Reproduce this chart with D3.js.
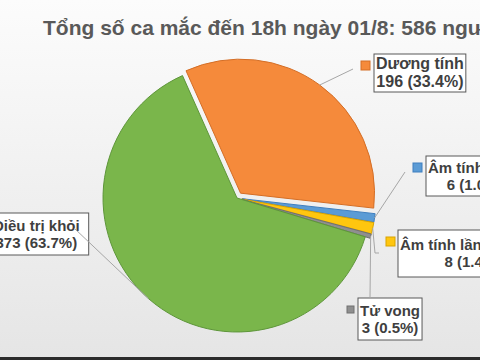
<!DOCTYPE html>
<html lang="vi">
<head>
<meta charset="utf-8">
<title>Tổng số ca mắc</title>
<script src="https://cdn.jsdelivr.net/npm/d3@7"></script>
<style>
  html, body { margin: 0; padding: 0; }
  body { width: 480px; height: 360px; overflow: hidden; font-family: "Liberation Sans", Arial, sans-serif; }
</style>
</head>
<body>
<script>
// data
var title = "Tổng số ca mắc đến 18h ngày 01/8: 586 người";
var categories = ["Dương tính", "Âm tính lần 1", "Âm tính lần 2 trở lên", "Tử vong", "Điều trị khỏi"];
var values = [196, 6, 8, 3, 373];
var colors = ["#F58A3B", "#5B9BD5", "#FFC60F", "#8F8F8F", "#7AB64B"];
var strokes = ["#D46E26", "#3F7FBF", "#D9A400", "#707070", "#5E963A"];

var w = 480, h = 360;
var cx = 237, cy = 198, r = 134;

// label layout: box top-left, extra padding, marker, leader end points
var layout = [
  { bx: 374, by: 54, bh: 38, fs: 16, pad: 4, mx: 361, my: 61, ms: 9, leader: [[353, 69]] },
  { bx: 426, by: 156, bh: 40, fs: 15, pad: 4, mx: 413, my: 163, ms: 9, leader: [[405, 172]] },
  { bx: 398, by: 230, bh: 47, fs: 15, pad: 4, mx: 386, my: 237, ms: 9, leader: [[375, 253], [379, 253]] },
  { bx: 358, by: 298, bh: 42, fs: 15, pad: 4, mx: 347, my: 306, ms: 7, leader: [[370, 298]] },
  { bx: -16, by: 213, bh: 42, fs: 15, pad: 18, mx: null, leader: [[74, 228]] }
];
var explode = [6, 5, 5, 5, 0];

var svg = d3.select("body").append("svg")
  .attr("width", w)
  .attr("height", h);

var grad = svg.append("defs").append("linearGradient")
  .attr("id", "bg").attr("x1", 0).attr("y1", 0).attr("x2", 0).attr("y2", 1);
grad.append("stop").attr("offset", "0%").attr("stop-color", "#fcfcfc");
grad.append("stop").attr("offset", "100%").attr("stop-color", "#e5e5e5");

svg.append("rect").attr("width", w).attr("height", h).attr("fill", "url(#bg)");
svg.append("rect").attr("x", 0).attr("y", 357).attr("width", w).attr("height", 3).attr("fill", "#2b2b2b");

svg.append("text")
  .attr("x", 43).attr("y", 35)
  .attr("font-size", 21).attr("font-weight", "bold")
  .attr("fill", "#595959")
  .text(title);

var data = categories.map(function (c, i) { return { name: c, value: values[i], i: i }; });
var total = d3.sum(values);
var fmt = d3.format(".1%");

var start = -24 * Math.PI / 180;
var pie = d3.pie().value(function (d) { return d.value; }).sort(null)
  .startAngle(start).endAngle(start + 2 * Math.PI);
var arcs = pie(data);
var arc = d3.arc().innerRadius(0).outerRadius(r);

function offset(a, dist) {
  var m = (a.startAngle + a.endAngle) / 2;
  return [Math.sin(m) * dist, -Math.cos(m) * dist];
}

var g = svg.append("g").attr("transform", "translate(" + cx + "," + cy + ")");
g.selectAll("path")
  .data(arcs)
  .enter()
  .append("path")
  .attr("d", arc)
  .attr("transform", function (d) {
    var o = offset(d, explode[d.data.i]);
    return "translate(" + o[0] + "," + o[1] + ")";
  })
  .attr("fill", function (d) { return colors[d.data.i]; })
  .attr("stroke", function (d) { return strokes[d.data.i]; })
  .attr("stroke-width", 1);

// labels
var labels = svg.append("g");
arcs.forEach(function (d) {
  var i = d.data.i, L = layout[i];
  var lg = labels.append("g");
  var t1 = lg.append("text").attr("font-size", L.fs).attr("font-weight", "bold")
    .attr("fill", "#3f3f3f").attr("text-anchor", "middle").text(d.data.name);
  var t2 = lg.append("text").attr("font-size", L.fs).attr("font-weight", "bold")
    .attr("fill", "#3f3f3f").attr("text-anchor", "middle")
    .text(d.data.value + " (" + fmt(d.data.value / total) + ")");
  var bw = Math.max(t1.node().getComputedTextLength(), t2.node().getComputedTextLength()) + L.pad;
  var bx = L.bx;
  var lh = L.fs + 2;
  var ty = L.by + (L.bh - 2 * lh) / 2 + L.fs * 0.9;
  t1.attr("x", bx + bw / 2).attr("y", ty);
  t2.attr("x", bx + bw / 2).attr("y", ty + lh);
  lg.insert("rect", "text")
    .attr("x", bx).attr("y", L.by).attr("width", bw).attr("height", L.bh)
    .attr("fill", "#ffffff").attr("stroke", "#595959").attr("stroke-width", 1);
  if (L.mx != null) {
    lg.append("rect").attr("x", L.mx).attr("y", L.my).attr("width", L.ms).attr("height", L.ms)
      .attr("fill", colors[i]).attr("stroke", strokes[i]).attr("stroke-width", 1);
  }
  // leader line from slice edge
  var m = (d.startAngle + d.endAngle) / 2;
  var o = offset(d, explode[i]);
  var p0 = [cx + o[0] + Math.sin(m) * r, cy + o[1] - Math.cos(m) * r];
  svg.append("path")
    .attr("d", d3.line()([p0].concat(L.leader)))
    .attr("fill", "none")
    .attr("stroke", "#a6a6a6")
    .attr("stroke-width", 1);
});
</script>
</body>
</html>
